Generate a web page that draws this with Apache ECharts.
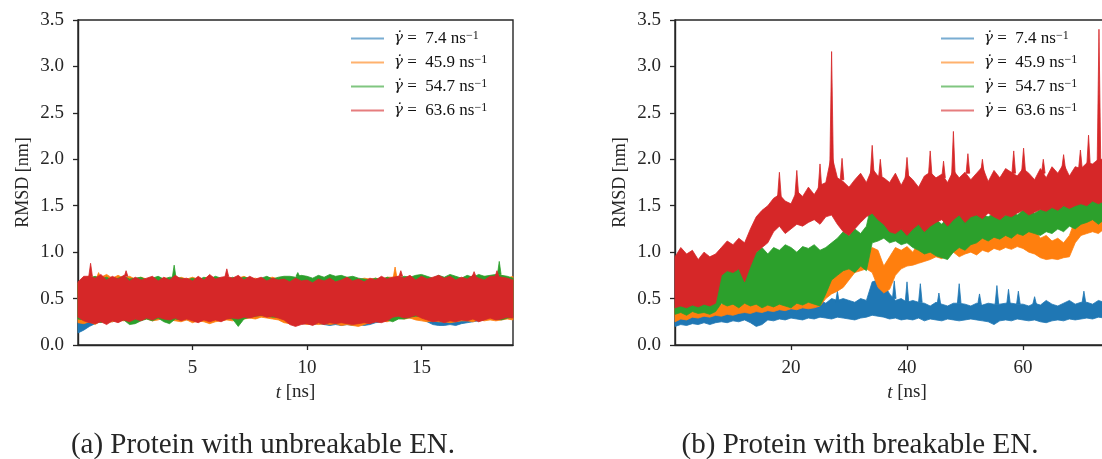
<!DOCTYPE html>
<html>
<head>
<meta charset="utf-8">
<title>RMSD vs time</title>
<script src="https://cdn.jsdelivr.net/npm/echarts@6/dist/echarts.min.js"></script>
<style>
html, body { margin: 0; padding: 0; background: #fff; overflow: hidden; }
/* the right panel runs past the picture edge, as in the cropped figure */
#main { width: 1160px; height: 459px; }
</style>
</head>
<body>
<div id="main"></div>
<script>
var rates = ['7.4', '45.9', '54.7', '63.6'];
var colors = ['#1f77b4', '#ff7f0e', '#2ca02c', '#d62728'];
var xTicksA = [5, 10, 15];
var xTicksB = [20, 40, 60, 80];

// (a) unbreakable EN: envelope of each trace, read every 0.25 ns from 0 to 19 ns
var stepA = 0.25;
var blueLoA = [
    0.13, 0.16, 0.20, 0.23, 0.25, 0.26, 0.25, 0.27, 0.28, 0.27, 0.29, 0.28,
    0.29, 0.28, 0.29, 0.28, 0.28, 0.27, 0.28, 0.27, 0.27, 0.26, 0.27, 0.26,
    0.27, 0.28, 0.28, 0.29, 0.29, 0.30, 0.31, 0.31, 0.32, 0.32, 0.31, 0.30,
    0.27, 0.25, 0.24, 0.23, 0.23, 0.22, 0.23, 0.22, 0.21, 0.22, 0.21, 0.22,
    0.21, 0.22, 0.21, 0.22, 0.24, 0.25, 0.27, 0.29, 0.30, 0.30, 0.29, 0.30,
    0.28, 0.25, 0.22, 0.21, 0.21, 0.22, 0.21, 0.23, 0.24, 0.25, 0.26, 0.27,
    0.28, 0.28, 0.29, 0.30, 0.31];
var blueHiA = [
    0.55, 0.62, 0.66, 0.68, 0.67, 0.69, 0.66, 0.68, 0.67, 0.69, 0.68, 0.66,
    0.68, 0.67, 0.69, 0.68, 0.66, 0.68, 0.67, 0.69, 0.68, 0.66, 0.68, 0.67,
    0.69, 0.67, 0.68, 0.66, 0.68, 0.69, 0.67, 0.68, 0.67, 0.68, 0.66, 0.68,
    0.67, 0.66, 0.68, 0.67, 0.66, 0.68, 0.67, 0.66, 0.68, 0.67, 0.66, 0.68,
    0.67, 0.66, 0.68, 0.67, 0.68, 0.69, 0.67, 0.68, 0.69, 0.68, 0.70, 0.68,
    0.67, 0.69, 0.68, 0.67, 0.68, 0.67, 0.69, 0.68, 0.67, 0.68, 0.66, 0.68,
    0.69, 0.68, 0.67, 0.69, 0.68];
var orangeLoA = [
    0.24, 0.23, 0.25, 0.22, 0.26, 0.24, 0.25, 0.27, 0.26, 0.27, 0.25, 0.27,
    0.28, 0.26, 0.27, 0.29, 0.27, 0.26, 0.25, 0.27, 0.24, 0.26, 0.25, 0.23,
    0.25, 0.26, 0.27, 0.26, 0.27, 0.28, 0.29, 0.28, 0.30, 0.29, 0.28, 0.27,
    0.24, 0.23, 0.22, 0.24, 0.22, 0.23, 0.22, 0.23, 0.22, 0.23, 0.21, 0.22,
    0.21, 0.20, 0.22, 0.24, 0.25, 0.26, 0.25, 0.27, 0.29, 0.28, 0.29, 0.27,
    0.26, 0.25, 0.26, 0.25, 0.25, 0.24, 0.25, 0.26, 0.26, 0.25, 0.27, 0.26,
    0.27, 0.26, 0.27, 0.28, 0.27];
var orangeHiA = [
    0.67, 0.72, 0.74, 0.73, 0.73, 0.76, 0.72, 0.75, 0.72, 0.74, 0.71, 0.73,
    0.71, 0.73, 0.70, 0.72, 0.72, 0.70, 0.73, 0.71, 0.73, 0.71, 0.72, 0.74,
    0.72, 0.70, 0.73, 0.71, 0.72, 0.74, 0.71, 0.72, 0.70, 0.72, 0.73, 0.71,
    0.70, 0.72, 0.71, 0.70, 0.71, 0.70, 0.72, 0.71, 0.70, 0.72, 0.71, 0.72,
    0.71, 0.70, 0.72, 0.71, 0.72, 0.70, 0.73, 0.73, 0.74, 0.72, 0.73, 0.71,
    0.73, 0.72, 0.71, 0.74, 0.72, 0.73, 0.71, 0.72, 0.73, 0.71, 0.72, 0.74,
    0.72, 0.73, 0.75, 0.72, 0.74];
var greenLoA = [
    0.28, 0.27, 0.25, 0.28, 0.24, 0.27, 0.28, 0.26, 0.27, 0.22, 0.23, 0.26,
    0.28, 0.26, 0.29, 0.25, 0.23, 0.28, 0.27, 0.29, 0.28, 0.26, 0.28, 0.27,
    0.28, 0.27, 0.29, 0.28, 0.20, 0.28, 0.30, 0.31, 0.32, 0.31, 0.30, 0.30,
    0.28, 0.25, 0.24, 0.25, 0.26, 0.25, 0.25, 0.24, 0.25, 0.24, 0.25, 0.25,
    0.24, 0.25, 0.26, 0.25, 0.27, 0.28, 0.27, 0.25, 0.28, 0.28, 0.30, 0.31,
    0.31, 0.29, 0.28, 0.27, 0.26, 0.27, 0.26, 0.28, 0.27, 0.29, 0.26, 0.28,
    0.30, 0.28, 0.27, 0.29, 0.30];
var greenHiA = [
    0.66, 0.70, 0.72, 0.74, 0.71, 0.73, 0.70, 0.72, 0.74, 0.71, 0.72, 0.73,
    0.70, 0.72, 0.74, 0.71, 0.73, 0.73, 0.72, 0.70, 0.72, 0.70, 0.73, 0.71,
    0.74, 0.72, 0.70, 0.73, 0.71, 0.73, 0.72, 0.70, 0.72, 0.74, 0.71, 0.73,
    0.74, 0.74, 0.73, 0.75, 0.74, 0.72, 0.75, 0.73, 0.76, 0.74, 0.75, 0.73,
    0.74, 0.72, 0.71, 0.70, 0.72, 0.70, 0.73, 0.71, 0.72, 0.74, 0.73, 0.75,
    0.76, 0.74, 0.72, 0.75, 0.73, 0.76, 0.74, 0.72, 0.75, 0.73, 0.76, 0.74,
    0.75, 0.76, 0.75, 0.74, 0.72];
var redLoA = [
    0.30, 0.26, 0.24, 0.23, 0.25, 0.22, 0.26, 0.24, 0.27, 0.25, 0.28, 0.26,
    0.29, 0.27, 0.30, 0.28, 0.27, 0.29, 0.26, 0.28, 0.26, 0.24, 0.27, 0.25,
    0.27, 0.25, 0.28, 0.29, 0.28, 0.30, 0.29, 0.31, 0.32, 0.30, 0.31, 0.29,
    0.27, 0.22, 0.20, 0.22, 0.23, 0.21, 0.24, 0.22, 0.24, 0.23, 0.24, 0.23,
    0.22, 0.23, 0.24, 0.23, 0.25, 0.24, 0.26, 0.30, 0.31, 0.29, 0.30, 0.32,
    0.29, 0.27, 0.25, 0.26, 0.24, 0.26, 0.25, 0.27, 0.26, 0.28, 0.25, 0.27,
    0.29, 0.27, 0.28, 0.30, 0.29];
var redHiA = [
    0.68, 0.74, 0.74, 0.72, 0.76, 0.70, 0.74, 0.71, 0.75, 0.69, 0.73, 0.70,
    0.72, 0.74, 0.69, 0.73, 0.70, 0.75, 0.71, 0.72, 0.69, 0.74, 0.70, 0.76,
    0.71, 0.73, 0.74, 0.72, 0.75, 0.70, 0.74, 0.71, 0.73, 0.69, 0.72, 0.70,
    0.71, 0.68, 0.72, 0.69, 0.70, 0.67, 0.71, 0.69, 0.72, 0.68, 0.70, 0.73,
    0.69, 0.71, 0.68, 0.72, 0.70, 0.74, 0.71, 0.73, 0.74, 0.72, 0.75, 0.70,
    0.74, 0.71, 0.73, 0.75, 0.72, 0.74, 0.70, 0.73, 0.71, 0.75, 0.72, 0.70,
    0.74, 0.74, 0.73, 0.72, 0.70];
// narrow excursions above the band: [t, foot, peak]
var orangeSpikesA = [[0.9, 0.73, 0.78], [13.85, 0.73, 0.84]];
var greenSpikesA = [[4.2, 0.73, 0.86], [9.6, 0.74, 0.78], [18.4, 0.76, 0.90]];
var redSpikesA = [[0.55, 0.74, 0.88], [2.1, 0.74, 0.80], [6.5, 0.74, 0.82], [14.1, 0.74, 0.80], [17.3, 0.74, 0.79], [18.3, 0.74, 0.80]];

// (b) breakable EN: envelope of each trace, read every 1 ns from 0 to 74 ns
var stepB = 1;
var blueLoB = [
    0.20, 0.22, 0.21, 0.23, 0.22, 0.24, 0.22, 0.24, 0.25, 0.24,
    0.26, 0.25, 0.27, 0.24, 0.20, 0.22, 0.27, 0.26, 0.28, 0.27,
    0.29, 0.28, 0.27, 0.29, 0.28, 0.30, 0.29, 0.28, 0.30, 0.29,
    0.28, 0.27, 0.29, 0.30, 0.32, 0.31, 0.30, 0.28, 0.29, 0.27,
    0.28, 0.27, 0.29, 0.26, 0.28, 0.27, 0.26, 0.28, 0.27, 0.26,
    0.27, 0.28, 0.27, 0.26, 0.25, 0.22, 0.26, 0.27, 0.26, 0.28,
    0.27, 0.26, 0.27, 0.25, 0.24, 0.26, 0.27, 0.26, 0.28, 0.27,
    0.28, 0.29, 0.28, 0.30, 0.29];
var blueHiB = [
    0.30, 0.33, 0.31, 0.34, 0.32, 0.35, 0.33, 0.36, 0.38, 0.40,
    0.42, 0.45, 0.40, 0.43, 0.45, 0.42, 0.47, 0.44, 0.45, 0.42,
    0.44, 0.48, 0.47, 0.50, 0.46, 0.48, 0.45, 0.50, 0.48, 0.50,
    0.48, 0.46, 0.50, 0.48, 0.68, 0.70, 0.66, 0.55, 0.48, 0.50,
    0.46, 0.48, 0.46, 0.45, 0.42, 0.46, 0.44, 0.42, 0.45, 0.45,
    0.44, 0.42, 0.45, 0.43, 0.45, 0.44, 0.44, 0.45, 0.45, 0.44,
    0.44, 0.42, 0.45, 0.43, 0.48, 0.44, 0.42, 0.45, 0.48, 0.44,
    0.46, 0.46, 0.44, 0.48, 0.46];
var orangeLoB = [
    0.25, 0.28, 0.27, 0.30, 0.29, 0.31, 0.30, 0.32, 0.31, 0.33,
    0.32, 0.34, 0.35, 0.34, 0.36, 0.35, 0.37, 0.36, 0.38, 0.37,
    0.39, 0.38, 0.40, 0.39, 0.40, 0.42, 0.50, 0.55, 0.58, 0.62,
    0.70, 0.78, 0.80, 0.82, 0.78, 0.62, 0.56, 0.60, 0.75, 0.82,
    0.85, 0.86, 0.88, 0.90, 0.92, 0.95, 0.93, 0.98, 1.00, 0.95,
    0.98, 1.00, 0.97, 1.02, 1.00, 1.04, 1.02, 1.05, 1.03, 1.06,
    1.04, 1.00, 0.98, 0.94, 0.92, 0.93, 0.92, 0.94, 0.95, 1.10,
    1.18, 1.20, 1.22, 1.20, 1.25];
var orangeHiB = [
    0.40, 0.45, 0.42, 0.46, 0.44, 0.48, 0.45, 0.47, 0.44, 0.46,
    0.45, 0.50, 0.47, 0.45, 0.48, 0.46, 0.50, 0.48, 0.52, 0.50,
    0.48, 0.52, 0.50, 0.55, 0.52, 0.58, 0.70, 0.80, 0.88, 0.85,
    0.92, 0.98, 0.95, 1.00, 1.05, 1.02, 0.85, 0.95, 1.05, 1.02,
    1.06, 1.00, 1.10, 1.15, 1.12, 1.18, 1.15, 1.20, 1.25, 1.30,
    1.22, 1.25, 1.20, 1.24, 1.28, 1.22, 1.26, 1.30, 1.25, 1.28,
    1.30, 1.26, 1.24, 1.15, 1.18, 1.12, 1.15, 1.10, 1.18, 1.35,
    1.40, 1.45, 1.50, 1.48, 1.50];
var greenLoB = [
    0.33, 0.35, 0.32, 0.36, 0.34, 0.35, 0.33, 0.36, 0.45, 0.42,
    0.44, 0.40, 0.45, 0.42, 0.44, 0.40, 0.43, 0.41, 0.44, 0.42,
    0.40, 0.45, 0.43, 0.46, 0.44, 0.42, 0.55, 0.70, 0.75, 0.80,
    0.82, 0.78, 0.85, 0.80, 1.10, 1.12, 1.15, 1.10, 1.12, 1.08,
    1.10, 1.05, 1.02, 0.98, 1.00, 0.96, 0.94, 0.92, 1.00, 1.05,
    1.02, 1.08, 1.10, 1.15, 1.12, 1.16, 1.14, 1.18, 1.15, 1.20,
    1.18, 1.22, 1.20, 1.18, 1.22, 1.20, 1.25, 1.22, 1.28, 1.25,
    1.30, 1.32, 1.35, 1.30, 1.35];
var greenHiB = [
    0.45, 0.42, 0.48, 0.45, 0.50, 0.46, 0.48, 0.45, 0.90, 0.95,
    0.92, 1.00, 0.90, 1.02, 1.00, 1.05, 0.98, 1.05, 1.02, 1.08,
    1.05, 1.00, 1.06, 1.04, 1.08, 1.02, 1.05, 1.10, 1.15, 1.22,
    1.18, 1.25, 1.20, 1.28, 1.56, 1.50, 1.40, 1.45, 1.38, 1.42,
    1.45, 1.35, 1.40, 1.32, 1.38, 1.35, 1.30, 1.38, 1.42, 1.40,
    1.45, 1.38, 1.42, 1.40, 1.38, 1.42, 1.36, 1.40, 1.44, 1.40,
    1.45, 1.48, 1.42, 1.46, 1.50, 1.48, 1.52, 1.50, 1.55, 1.52,
    1.56, 1.60, 1.62, 1.60, 1.62];
var redLoB = [
    0.40, 0.42, 0.40, 0.43, 0.41, 0.44, 0.42, 0.45, 0.75, 0.80,
    0.78, 0.82, 0.68, 0.85, 1.00, 1.05, 1.10, 1.22, 1.28, 1.20,
    1.25, 1.30, 1.28, 1.32, 1.35, 1.30, 1.38, 1.40, 1.30, 1.22,
    1.18, 1.25, 1.32, 1.38, 1.42, 1.35, 1.30, 1.22, 1.20, 1.25,
    1.18, 1.25, 1.30, 1.22, 1.28, 1.32, 1.35, 1.28, 1.35, 1.40,
    1.32, 1.38, 1.40, 1.36, 1.42, 1.38, 1.35, 1.40, 1.38, 1.42,
    1.45, 1.40, 1.43, 1.46, 1.44, 1.48, 1.45, 1.50, 1.47, 1.50,
    1.52, 1.50, 1.55, 1.52, 1.55];
var redHiB = [
    0.95, 1.05, 0.98, 1.02, 0.92, 1.00, 0.95, 0.98, 1.05, 1.12,
    1.08, 1.15, 1.10, 1.25, 1.38, 1.45, 1.50, 1.58, 1.62, 1.55,
    1.52, 1.66, 1.60, 1.70, 1.62, 1.72, 1.75, 2.05, 1.80, 1.76,
    1.70, 1.78, 1.85, 1.75, 1.90, 1.82, 1.80, 1.75, 1.85, 1.72,
    1.84, 1.78, 1.70, 1.82, 1.86, 1.80, 1.84, 1.75, 1.88, 1.80,
    1.86, 1.78, 1.85, 1.92, 1.76, 1.88, 1.80, 1.90, 1.86, 1.82,
    1.90, 1.85, 1.78, 1.90, 1.80, 1.92, 1.85, 1.95, 1.82, 1.92,
    1.90, 1.96, 1.95, 2.00, 2.00];
var blueSpikesB = [
    [22.5, 0.45, 0.53], [28, 0.46, 0.58], [37.8, 0.50, 0.69], [40, 0.46, 0.68],
    [42.3, 0.46, 0.66], [45.5, 0.44, 0.56], [49, 0.45, 0.66], [52.5, 0.44, 0.55],
    [55.5, 0.44, 0.64], [57.5, 0.44, 0.60], [59.2, 0.44, 0.58], [62, 0.44, 0.52],
    [70.5, 0.46, 0.58]];
var redSpikesB = [
    [18, 1.60, 1.86], [21, 1.62, 1.88], [25, 1.68, 1.95], [27, 1.90, 3.16],
    [28.8, 1.78, 2.01], [34, 1.85, 2.15], [35.4, 1.80, 2.00], [40, 1.80, 2.02],
    [44, 1.82, 2.09], [46.3, 1.80, 1.98], [48, 1.82, 2.30], [50.5, 1.85, 2.06],
    [53, 1.85, 2.00], [58.4, 1.85, 2.09], [60.1, 1.88, 2.12], [63.5, 1.85, 2.00],
    [67, 1.90, 2.05], [69.9, 1.90, 2.10], [71.3, 1.92, 2.26], [73.1, 1.95, 3.40]];

var SERIF = "'Liberation Serif', 'DejaVu Serif', serif";
var INK = '#262626';

// one filled band (lo..hi) per trace, drawn as a polygon through the axes
function band(name, step, lo, hi, color, gi) {
    var data = lo.map(function (v, i) { return [i * step, v, hi[i]]; });
    return {
        type: 'custom',
        name: name,
        xAxisIndex: gi,
        yAxisIndex: gi,
        itemStyle: { color: color },
        encode: { x: 0, y: [1, 2] },
        data: data,
        renderItem: function (params, api) {
            if (params.dataIndexInside !== 0) return null;
            var n = params.dataInsideLength;
            var top = [], bot = [];
            for (var i = 0; i < n; i++) {
                top.push(api.coord([api.value(0, i), api.value(2, i)]));
                bot.push(api.coord([api.value(0, i), api.value(1, i)]));
            }
            return {
                type: 'polygon',
                shape: { points: top.concat(bot.reverse()) },
                style: { fill: color, stroke: color, lineWidth: 0.8 }
            };
        }
    };
}

// thin spikes sticking out of a band
function spikes(name, list, color, gi) {
    return {
        type: 'custom',
        name: name,
        xAxisIndex: gi,
        yAxisIndex: gi,
        itemStyle: { color: color },
        encode: { x: 0, y: [1, 2] },
        data: list,
        renderItem: function (params, api) {
            var b = api.coord([api.value(0), api.value(1)]);
            var p = api.coord([api.value(0), api.value(2)]);
            return {
                type: 'polygon',
                shape: { points: [[b[0] - 1.8, b[1]], [p[0], p[1]], [b[0] + 1.8, b[1]]] },
                style: { fill: color, stroke: color, lineWidth: 0.8 }
            };
        }
    };
}

function xAxis(gi, max, ticks) {
    return {
        gridIndex: gi, type: 'value', min: 0, max: max,
        name: '{i|t} [ns]', nameLocation: 'middle', nameGap: 38,
        nameTextStyle: {
            fontFamily: SERIF, fontSize: 19, color: INK,
            rich: { i: { fontFamily: SERIF, fontSize: 19, fontStyle: 'italic', color: INK } }
        },
        axisLine: { onZero: false, lineStyle: { color: INK, width: 1.4 } },
        axisTick: { customValues: ticks, length: 5, lineStyle: { color: INK, width: 1.3 } },
        axisLabel: { customValues: ticks, margin: 14, fontFamily: SERIF, fontSize: 19, color: INK },
        splitLine: { show: false }
    };
}

function yAxis(gi) {
    return {
        gridIndex: gi, type: 'value', min: 0, max: 3.5, interval: 0.5,
        name: 'RMSD [nm]', nameLocation: 'middle', nameGap: 46,
        nameTextStyle: { fontFamily: SERIF, fontSize: 18, color: INK },
        axisLine: { onZero: false, lineStyle: { color: INK, width: 1.4 } },
        axisTick: { length: 5, lineStyle: { color: INK, width: 1.3 } },
        axisLabel: {
            margin: 14, fontFamily: SERIF, fontSize: 19, color: INK,
            formatter: function (v) { return v.toFixed(1); }
        },
        splitLine: { show: false }
    };
}

function legend(left) {
    return {
        orient: 'vertical', left: left, top: 25,
        data: rates, icon: 'rect', itemWidth: 33, itemHeight: 2, itemGap: 7,
        itemStyle: { opacity: 0.6 },
        formatter: function (name) { return '{g|\u03b3\u0307} =  ' + name + ' ns{s|\u22121}'; },
        textStyle: {
            fontFamily: SERIF, fontSize: 17, color: '#111', lineHeight: 17, padding: [0, 0, 0, 5],
            rich: {
                g: { fontFamily: "'DejaVu Serif', serif", fontSize: 15, fontStyle: 'italic', color: '#111' },
                s: { fontFamily: SERIF, fontSize: 12, color: '#111', verticalAlign: 'top' }
            }
        }
    };
}

var series = [];
var bandsA = [[blueLoA, blueHiA, null], [orangeLoA, orangeHiA, orangeSpikesA], [greenLoA, greenHiA, greenSpikesA], [redLoA, redHiA, redSpikesA]];
var bandsB = [[blueLoB, blueHiB, blueSpikesB], [orangeLoB, orangeHiB, null], [greenLoB, greenHiB, null], [redLoB, redHiB, redSpikesB]];
bandsA.forEach(function (b, k) {
    series.push(band(rates[k], stepA, b[0], b[1], colors[k], 0));
    if (b[2]) series.push(spikes(rates[k], b[2], colors[k], 0));
});
bandsB.forEach(function (b, k) {
    series.push(band(rates[k], stepB, b[0], b[1], colors[k], 1));
    if (b[2]) series.push(spikes(rates[k], b[2], colors[k], 1));
});

var chart = echarts.init(document.getElementById('main'), null, { renderer: 'canvas' });
chart.setOption({
    animation: false,
    backgroundColor: '#fff',
    grid: [
        { left: 78, top: 20, width: 435, height: 325, show: true, borderColor: INK, borderWidth: 1.4 },
        { left: 675, top: 20, width: 464, height: 325, show: true, borderColor: INK, borderWidth: 1.4 }
    ],
    xAxis: [xAxis(0, 19, xTicksA), xAxis(1, 80, xTicksB)],
    yAxis: [yAxis(0), yAxis(1)],
    legend: [legend(346), legend(936)],
    graphic: [
        { type: 'text', x: 263, y: 445, style: { text: '(a) Protein with unbreakable EN.', font: '29px ' + SERIF, fill: INK, textAlign: 'center', textVerticalAlign: 'middle' } },
        { type: 'text', x: 860, y: 445, style: { text: '(b) Protein with breakable EN.', font: '29px ' + SERIF, fill: INK, textAlign: 'center', textVerticalAlign: 'middle' } }
    ],
    series: series
});
</script>
</body>
</html>
